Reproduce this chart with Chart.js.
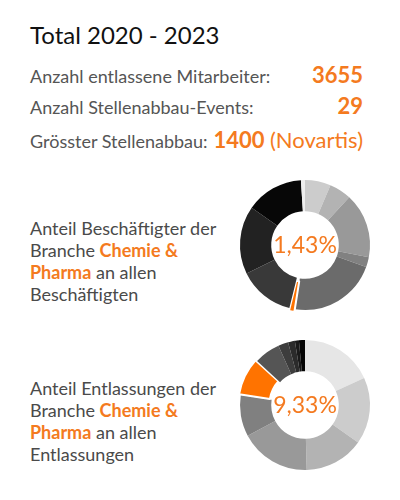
<script src="https://cdn.jsdelivr.net/npm/chart.js"></script>
<style>
  body { margin: 0; background: #fff; font-family: Lato, sans-serif; }
  .abs { position: absolute; }
  .title { left: 30px; top: 21px; font-size: 24px; line-height: 1.2; color: #111; }
  .row { position: absolute; left: 30px; width: 333px; display: flex; align-items: baseline; white-space: nowrap; }
  .row.spread { justify-content: space-between; }
  .row span { flex-shrink: 0; }
  .lbl { font-size: 18px; line-height: 1.2; color: #555; }
  .val { font-size: 22px; line-height: 1.2; color: #f47a20; font-weight: 700; }
  .val .thin { font-weight: 400; }
  .para { left: 30px; width: 205px; font-size: 18px; line-height: 22px; color: #4a4a4a; }
  .para b { color: #f47a20; font-weight: 700; }
  .center { width: 100px; text-align: center; font-size: 23px; line-height: 1.2; color: #f47a20; }
  canvas { position: absolute; }
</style>

<div class="abs title">Total 2020 - 2023</div>

<div class="row spread" style="top:62px">
  <span class="lbl">Anzahl entlassene Mitarbeiter:</span><span class="val">3655</span>
</div>
<div class="row spread" style="top:93px">
  <span class="lbl">Anzahl Stellenabbau-Events:</span><span class="val">29</span>
</div>
<div class="row" style="top:127px">
  <span class="lbl">Grösster Stellenabbau:</span><span class="val" style="margin-left:6px">1400 <span class="thin">(Novartis)</span></span>
</div>

<div class="abs para" style="top:217px">Anteil Beschäftigter der Branche <b>Chemie &amp; Pharma</b> an allen Beschäftigten</div>
<div class="abs para" style="top:377px">Anteil Entlassungen der Branche <b>Chemie &amp; Pharma</b> an allen Entlassungen</div>

<canvas id="donutJobs" width="170" height="170" style="left:220px; top:160px"></canvas>
<canvas id="donutLayoffs" width="170" height="170" style="left:220px; top:320px"></canvas>

<div class="abs center" id="labelJobs" style="left:255px; top:231px"></div>
<div class="abs center" id="labelLayoffs" style="left:255px; top:391px"></div>

<script>
    // Anteil Beschäftigte je Branche (in %), Chemie & Pharma an 6. Stelle
    const jobShares = [6.4, 5.5, 16.1, 2.5, 21.9, 1.43, 13.9, 16.9, 14.3, 1.0];
    const jobColors = ['#cccccc', '#b3b3b3', '#999999', '#818181', '#6b6b6b', '#ff7300', '#393939', '#222222', '#070707', '#eeeeee'];
    const jobHighlight = 5;

    // Anteil Entlassungen je Branche (in %), Chemie & Pharma an 6. Stelle
    const layoffShares = [18.2, 16.6, 14.8, 17.6, 10.3, 9.33, 6.5, 2.5, 1.7, 1.0, 1.5];
    const layoffColors = ['#e6e6e6', '#cccccc', '#b3b3b3', '#999999', '#808080', '#ff7300', '#555555', '#3d3d3d', '#2b2b2b', '#1a1a1a', '#050505'];
    const layoffHighlight = 5;

    function fmt(v) {
        return v.toFixed(2).replace('.', ',') + '%';
    }

    function makeDonut(id, values, colors, highlight, offset) {
        new Chart(document.getElementById(id), {
            type: 'doughnut',
            data: {
                datasets: [{
                    data: values,
                    backgroundColor: colors,
                    borderColor: '#ffffff',
                    borderWidth: values.map((v, i) => i === highlight ? 2 : 0),
                    offset: values.map((v, i) => i === highlight ? offset : 0)
                }]
            },
            options: {
                responsive: false,
                animation: false,
                radius: 65,
                cutout: '52%',
                events: [],
                plugins: {
                    legend: { display: false },
                    tooltip: { enabled: false }
                }
            }
        });
    }

    makeDonut('donutJobs', jobShares, jobColors, jobHighlight, 6);
    makeDonut('donutLayoffs', layoffShares, layoffColors, layoffHighlight, 5);

    document.getElementById('labelJobs').innerText = fmt(jobShares[jobHighlight]);
    document.getElementById('labelLayoffs').innerText = fmt(layoffShares[layoffHighlight]);
</script>
